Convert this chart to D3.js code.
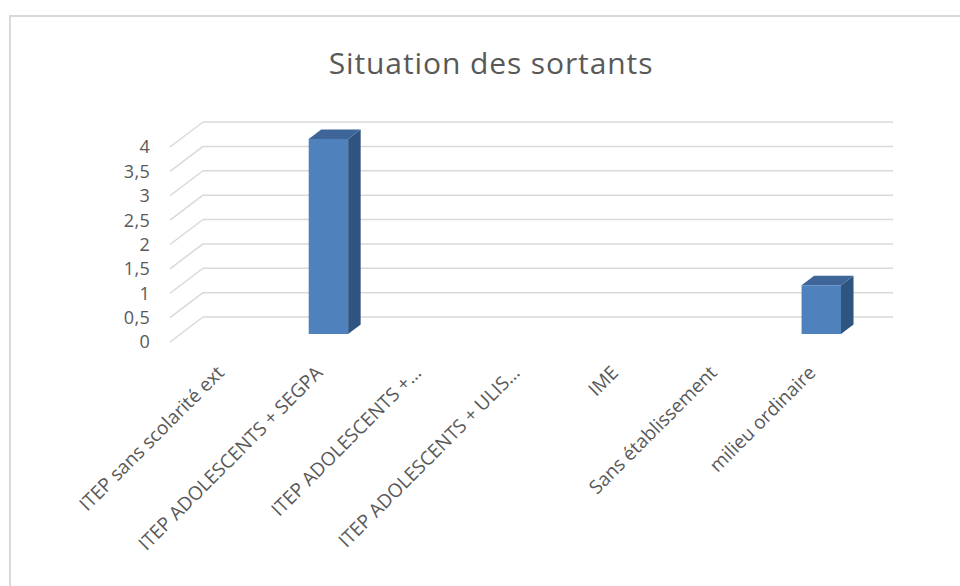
<!DOCTYPE html>
<html>
<head>
<meta charset="utf-8">
<script src="https://cdn.jsdelivr.net/npm/d3@7"></script>
<style>
  body { margin: 0; background: #fff; }
  text { font-family: "Open Sans", sans-serif; fill: #595959; }
</style>
</head>
<body>
<svg id="chart" width="960" height="586"></svg>
<script>
// data
var categories = ['ITEP sans scolarité ext', 'ITEP ADOLESCENTS + SEGPA', 'ITEP ADOLESCENTS +…',
  'ITEP ADOLESCENTS + ULIS…', 'IME', 'Sans établissement', 'milieu ordinaire']
var values = [0, 4, 0, 0, 0, 0, 1]
var yTicks = [0, 0.5, 1, 1.5, 2, 2.5, 3, 3.5, 4]

var svg = d3.select('#chart')

// frame of the chart, runs off the right and bottom edge
svg.append('rect')
  .attr('x', 10).attr('y', 16)
  .attr('width', 1000).attr('height', 600)
  .attr('fill', '#fff')
  .attr('stroke', '#d9d9d9')
  .attr('stroke-width', 2)

svg.append('text')
  .attr('x', 491).attr('y', 74)
  .attr('text-anchor', 'middle')
  .style('font-size', '30px')
  .style('letter-spacing', '0.9px')
  .text('Situation des sortants')

// front plane of the 3d box, and depth offset
var depthX = 33, depthY = -25
var x = d3.scaleBand().domain(categories).range([170, 860])
var y = d3.scaleLinear().domain([0, 4]).range([342, 147])

// bars sit in the middle of the depth
var dFront = 0.32, dBack = 0.70
var barFrac = 0.4

var grid = svg.append('g')

// back wall lines
grid.selectAll('line.back')
  .data(yTicks)
  .enter().append('line')
  .attr('class', 'back')
  .attr('x1', x.range()[0] + depthX).attr('x2', x.range()[1] + depthX)
  .attr('y1', function (d) { return y(d) + depthY })
  .attr('y2', function (d) { return y(d) + depthY })
  .attr('stroke', '#d9d9d9').attr('stroke-width', 1.5)

// side wall lines
grid.selectAll('line.side')
  .data(yTicks)
  .enter().append('line')
  .attr('class', 'side')
  .attr('x1', x.range()[0]).attr('x2', x.range()[0] + depthX)
  .attr('y1', function (d) { return y(d) })
  .attr('y2', function (d) { return y(d) + depthY })
  .attr('stroke', '#d9d9d9').attr('stroke-width', 1.5)

// y labels
svg.append('g').selectAll('text')
  .data(yTicks)
  .enter().append('text')
  .attr('x', 150)
  .attr('y', function (d) { return y(d) })
  .attr('dy', '0.36em')
  .attr('text-anchor', 'end')
  .style('font-size', '18px')
  .style('letter-spacing', '0.3px')
  .text(function (d) { return String(d).replace('.', ',') })

// bars
var bars = svg.append('g').selectAll('g')
  .data(categories.map(function (c, i) { return { cat: c, val: values[i] } }).filter(function (d) { return d.val > 0 }))
  .enter().append('g')

function pt (px, py) { return px + ',' + py }

bars.each(function (d) {
  var g = d3.select(this)
  var bw = x.bandwidth() * barFrac
  var x0 = x(d.cat) + (x.bandwidth() - bw) / 2 + dFront * depthX
  var x1 = x0 + bw
  var yb = y(0) + dFront * depthY
  var yt = y(d.val) + dFront * depthY
  var ox = (dBack - dFront) * depthX
  var oy = (dBack - dFront) * depthY

  // side face
  g.append('polygon')
    .attr('points', [pt(x1, yt), pt(x1 + ox, yt + oy), pt(x1 + ox, yb + oy), pt(x1, yb)].join(' '))
    .attr('fill', '#2f5480')
  // top face
  g.append('polygon')
    .attr('points', [pt(x0, yt), pt(x0 + ox, yt + oy), pt(x1 + ox, yt + oy), pt(x1, yt)].join(' '))
    .attr('fill', '#3d6597')
  // front face
  g.append('rect')
    .attr('x', x0).attr('y', yt)
    .attr('width', bw).attr('height', yb - yt)
    .attr('fill', '#4f81bd')
})

// category labels, rotated
svg.append('g').selectAll('text')
  .data(categories)
  .enter().append('text')
  .attr('transform', function (d) {
    return 'translate(' + (x(d) + x.bandwidth() / 2 + 6) + ',374) rotate(-45)'
  })
  .attr('text-anchor', 'end')
  .style('font-size', '19px')
  .text(function (d) { return d })
</script>
</body>
</html>
